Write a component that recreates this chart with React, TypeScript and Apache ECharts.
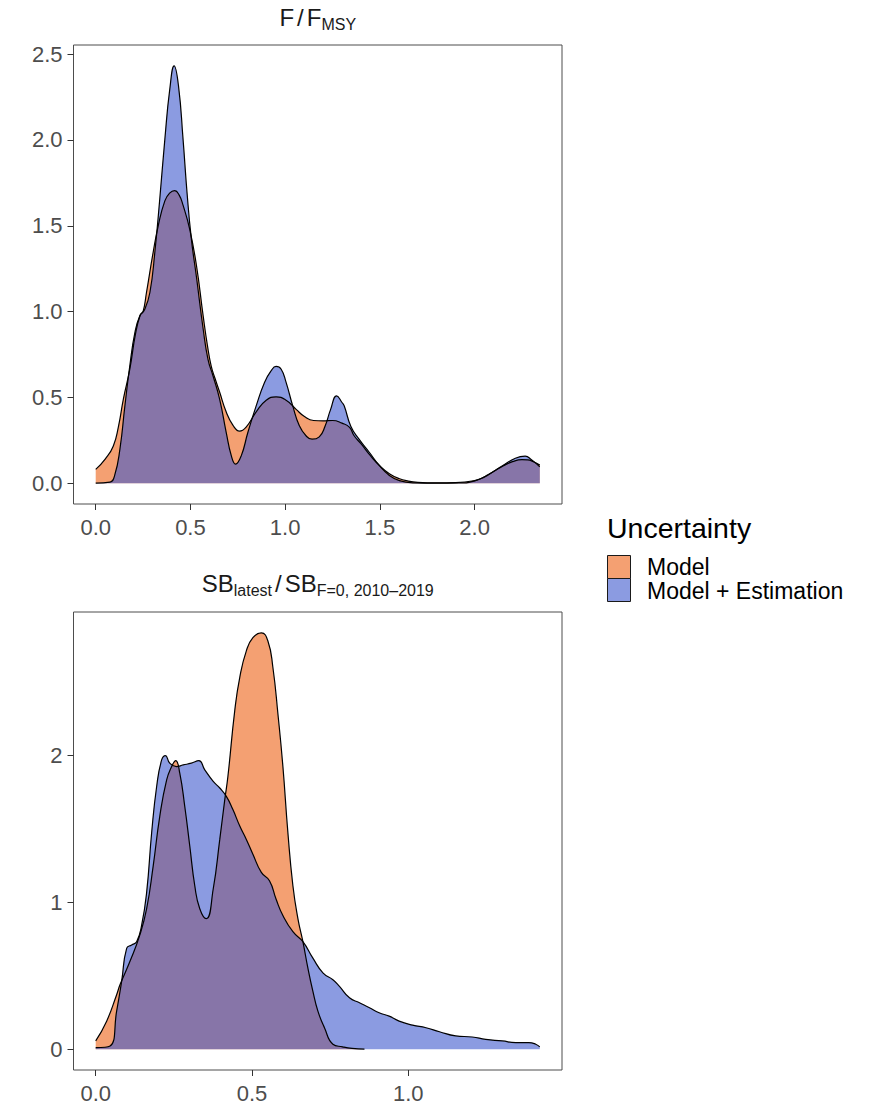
import React, { useEffect, useRef } from "react";
import * as echarts from "echarts";

// ---------- Data: F / F_MSY densities ----------
const fModelX = [0, 0.05, 0.093, 0.12, 0.146, 0.18, 0.21, 0.235, 0.25, 0.268, 0.303, 0.33, 0.365, 0.39, 0.417, 0.44, 0.461, 0.496, 0.532, 0.567, 0.59, 0.61, 0.63, 0.654, 0.689, 0.724, 0.759, 0.795, 0.847, 0.9, 0.952, 1.005, 1.058, 1.1, 1.15, 1.2, 1.25, 1.3, 1.34, 1.364, 1.4, 1.45, 1.5, 1.55, 1.6, 1.65, 1.7, 1.8, 1.9, 2.0, 2.05, 2.1, 2.15, 2.2, 2.25, 2.28, 2.31, 2.344];
const fModelY = [0.08, 0.14, 0.217, 0.33, 0.49, 0.664, 0.87, 0.98, 1.0, 1.111, 1.344, 1.5, 1.645, 1.69, 1.705, 1.68, 1.62, 1.48, 1.267, 0.976, 0.8, 0.68, 0.61, 0.531, 0.415, 0.338, 0.303, 0.328, 0.415, 0.483, 0.503, 0.483, 0.43, 0.39, 0.365, 0.363, 0.365, 0.35, 0.325, 0.276, 0.23, 0.16, 0.1, 0.055, 0.027, 0.012, 0.005, 0.002, 0.003, 0.015, 0.035, 0.068, 0.1, 0.125, 0.137, 0.136, 0.125, 0.105];

const fEstX = [0, 0.075, 0.1, 0.128, 0.154, 0.18, 0.207, 0.233, 0.259, 0.286, 0.312, 0.338, 0.365, 0.391, 0.414, 0.437, 0.461, 0.482, 0.505, 0.532, 0.567, 0.593, 0.619, 0.654, 0.689, 0.716, 0.738, 0.768, 0.803, 0.847, 0.891, 0.926, 0.952, 0.979, 1.005, 1.04, 1.075, 1.11, 1.142, 1.18, 1.21, 1.24, 1.272, 1.3, 1.312, 1.347, 1.39, 1.444, 1.497, 1.55, 1.603, 1.673, 1.8, 1.918, 2.005, 2.075, 2.145, 2.215, 2.267, 2.3, 2.344];
const fEstY = [0.0, 0.006, 0.045, 0.2, 0.45, 0.684, 0.878, 0.975, 1.014, 1.111, 1.344, 1.655, 2.005, 2.296, 2.432, 2.315, 2.005, 1.694, 1.422, 1.2, 0.9, 0.72, 0.626, 0.49, 0.295, 0.159, 0.111, 0.159, 0.295, 0.45, 0.587, 0.655, 0.68, 0.664, 0.587, 0.45, 0.334, 0.276, 0.256, 0.27, 0.33, 0.43, 0.509, 0.47, 0.45, 0.33, 0.256, 0.18, 0.103, 0.045, 0.015, 0.002, 0.0, 0.001, 0.015, 0.052, 0.1, 0.145, 0.157, 0.136, 0.095];

// ---------- Data: SB_latest / SB_F=0 densities ----------
const sbModelX = [0, 0.035, 0.067, 0.078, 0.11, 0.141, 0.163, 0.184, 0.205, 0.227, 0.243, 0.256, 0.269, 0.285, 0.301, 0.317, 0.333, 0.354, 0.376, 0.397, 0.413, 0.423, 0.445, 0.461, 0.482, 0.503, 0.53, 0.551, 0.567, 0.583, 0.599, 0.615, 0.631, 0.647, 0.663, 0.679, 0.695, 0.711, 0.732, 0.759, 0.79, 0.82, 0.86];
const sbModelY = [0.057, 0.191, 0.371, 0.44, 0.6, 0.777, 0.957, 1.249, 1.586, 1.834, 1.925, 1.965, 1.88, 1.653, 1.384, 1.113, 0.957, 0.889, 1.091, 1.429, 1.7, 1.857, 2.308, 2.533, 2.713, 2.803, 2.836, 2.78, 2.6, 2.285, 1.925, 1.474, 1.113, 0.889, 0.732, 0.552, 0.394, 0.259, 0.146, 0.034, 0.016, 0.005, 0.0];

const sbEstX = [0, 0.046, 0.067, 0.083, 0.099, 0.115, 0.131, 0.147, 0.163, 0.179, 0.195, 0.211, 0.223, 0.237, 0.258, 0.28, 0.306, 0.33, 0.349, 0.376, 0.397, 0.418, 0.439, 0.461, 0.482, 0.503, 0.53, 0.556, 0.577, 0.599, 0.631, 0.663, 0.695, 0.727, 0.759, 0.78, 0.812, 0.844, 0.876, 0.907, 0.939, 0.971, 1.014, 1.057, 1.1, 1.152, 1.205, 1.248, 1.301, 1.344, 1.386, 1.408, 1.421];
const sbEstY = [0.011, 0.022, 0.259, 0.462, 0.687, 0.71, 0.732, 0.845, 1.068, 1.474, 1.789, 1.97, 2.0, 1.948, 1.925, 1.936, 1.948, 1.965, 1.903, 1.824, 1.779, 1.722, 1.632, 1.52, 1.429, 1.328, 1.204, 1.147, 1.023, 0.91, 0.8, 0.732, 0.62, 0.52, 0.473, 0.428, 0.35, 0.316, 0.282, 0.248, 0.225, 0.191, 0.164, 0.146, 0.119, 0.09, 0.083, 0.067, 0.056, 0.045, 0.045, 0.034, 0.016];

// ---------- Tick labels ----------
const fTicksX = [0, 0.5, 1, 1.5, 2];
const fTicksY = [0, 0.5, 1, 1.5, 2, 2.5];
const sbTicksX = [0, 0.5, 1];
const sbTicksY = [0, 1, 2];

const legendLabels = ["Model", "Model + Estimation"];
const legendTitle = "Uncertainty";

// ---------- Styles ----------
const FONT = "Liberation Sans, Arial, Helvetica, sans-serif";
const ORANGE = "#ED6114";
const BLUE = "#3E58CD";
const ALPHA = 0.6;
const ORANGE_KEY = "#F4A072";
const BLUE_KEY = "#8B9BE1";

function pairs(xs: number[], ys: number[]) {
  return xs.map((x, i) => [x, ys[i]]);
}
function expanded(...arrs: number[][]) {
  let lo = Infinity, hi = -Infinity;
  arrs.forEach((a) => a.forEach((v) => { if (v < lo) lo = v; if (v > hi) hi = v; }));
  const pad = (hi - lo) * 0.05;
  return [lo - pad, hi + pad];
}

function buildOption() {
  const fx = expanded(fModelX, fEstX);
  const fy = expanded(fModelY, fEstY);
  const sx = expanded(sbModelX, sbEstX);
  const sy = expanded(sbModelY, sbEstY);

  const tickStyle = { show: true, length: 6, inside: false, lineStyle: { color: "#333333", width: 1 } };
  const labelStyle = { color: "#4d4d4d", fontSize: 22, fontFamily: FONT };

  const mkX = (gi: number, ext: number[], ticks: number[]) => ({
    type: "value",
    gridIndex: gi,
    position: "bottom",
    min: ext[0],
    max: ext[1],
    splitLine: { show: false },
    axisLine: { show: false, onZero: false },
    axisTick: { ...tickStyle, customValues: ticks },
    axisLabel: { ...labelStyle, margin: 12, customValues: ticks, formatter: (v: number) => v.toFixed(1) },
  });
  const mkY = (gi: number, ext: number[], ticks: number[], dec: number) => ({
    type: "value",
    gridIndex: gi,
    position: "left",
    min: ext[0],
    max: ext[1],
    splitLine: { show: false },
    axisLine: { show: false, onZero: false },
    axisTick: { ...tickStyle, customValues: ticks },
    axisLabel: { ...labelStyle, margin: 11, customValues: ticks, formatter: (v: number) => v.toFixed(dec) },
  });

  const mkSeries = (name: string, gi: number, data: number[][], color: string) => ({
    type: "line",
    name,
    xAxisIndex: gi,
    yAxisIndex: gi,
    data,
    smooth: 0.5,
    symbol: "none",
    showSymbol: false,
    lineStyle: { color: "#000000", width: 1.2 },
    itemStyle: { color },
    areaStyle: { color, opacity: ALPHA, origin: "auto" },
    emphasis: { disabled: true },
    silent: true,
  });

  const titleRich = {
    m: { fontSize: 24, fontFamily: FONT, fill: "#1a1a1a", lineHeight: 32 },
    d: { fontSize: 24, fontFamily: FONT, fill: "#1a1a1a", lineHeight: 32, padding: [0, 3, 0, 3] },
    s: { fontSize: 16, fontFamily: FONT, fill: "#1a1a1a", lineHeight: 32, padding: [14, 0, 0, 0] },
  };

  return {
    animation: false,
    grid: [
      { left: 73.5, top: 45, width: 488.5, height: 459, show: true, borderColor: "#4d4d4d", borderWidth: 1, backgroundColor: "transparent", containLabel: false },
      { left: 73.5, top: 612, width: 488.5, height: 459, show: true, borderColor: "#4d4d4d", borderWidth: 1, backgroundColor: "transparent", containLabel: false },
    ],
    xAxis: [mkX(0, fx, fTicksX), mkX(1, sx, sbTicksX)],
    yAxis: [mkY(0, fy, fTicksY, 1), mkY(1, sy, sbTicksY, 0)],
    series: [
      mkSeries(legendLabels[0], 0, pairs(fModelX, fModelY), ORANGE),
      mkSeries(legendLabels[1], 0, pairs(fEstX, fEstY), BLUE),
      mkSeries(legendLabels[0], 1, pairs(sbModelX, sbModelY), ORANGE),
      mkSeries(legendLabels[1], 1, pairs(sbEstX, sbEstY), BLUE),
    ],
    graphic: [
      {
        type: "text",
        x: 317.75,
        y: 17,
        silent: true,
        style: { text: "{m|F}{d|/}{m|F}{s|MSY}", rich: titleRich, align: "center", verticalAlign: "middle" },
      },
      {
        type: "text",
        x: 317.75,
        y: 583,
        silent: true,
        style: { text: "{m|SB}{s|latest}{d|/}{m|SB}{s|F=0, 2010–2019}", rich: titleRich, align: "center", verticalAlign: "middle" },
      },
      {
        type: "text",
        x: 607,
        y: 528,
        silent: true,
        style: { text: legendTitle, fontSize: 28.5, fontFamily: FONT, fill: "#000000", align: "left", verticalAlign: "middle" },
      },
      {
        type: "rect",
        silent: true,
        shape: { x: 607.5, y: 555.5, width: 23, height: 23 },
        style: { fill: ORANGE_KEY, stroke: "#1a1a1a", lineWidth: 1 },
      },
      {
        type: "rect",
        silent: true,
        shape: { x: 607.5, y: 578.5, width: 23, height: 23 },
        style: { fill: BLUE_KEY, stroke: "#1a1a1a", lineWidth: 1 },
      },
      {
        type: "text",
        x: 647,
        y: 567,
        silent: true,
        style: { text: legendLabels[0], fontSize: 23, lineHeight: 22, fontFamily: FONT, fill: "#000000", align: "left", verticalAlign: "middle" },
      },
      {
        type: "text",
        x: 647,
        y: 591,
        silent: true,
        style: { text: legendLabels[1], fontSize: 23, lineHeight: 22, fontFamily: FONT, fill: "#000000", align: "left", verticalAlign: "middle" },
      },
    ],
  };
}

export default function App() {
  const ref = useRef<HTMLDivElement>(null);
  useEffect(() => {
    if (!ref.current) return;
    const chart = echarts.init(ref.current, null, { renderer: "svg" });
    chart.setOption(buildOption() as any);
    return () => {
      chart.dispose();
    };
  }, []);
  return (
    <div
      ref={ref}
      style={{ position: "absolute", left: 0, top: 0, width: 874, height: 1104, background: "#ffffff" }}
    />
  );
}
